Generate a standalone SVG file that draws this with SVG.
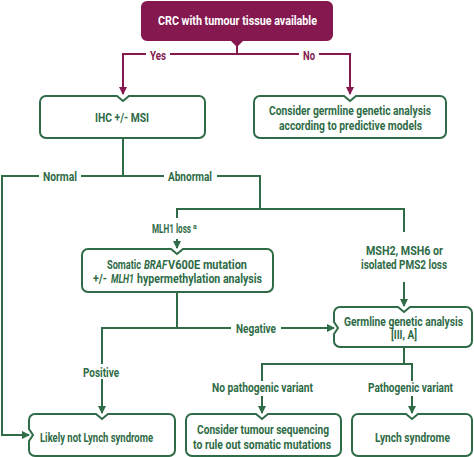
<svg xmlns="http://www.w3.org/2000/svg" width="474" height="457" viewBox="0 0 474 457">
<style>
.bx{fill:#fff;stroke:#2e6b46;stroke-width:2}
.cg{fill:none;stroke:#2e6b46;stroke-width:2}
.cm{fill:none;stroke:#85194f;stroke-width:2}
.t{font-family:Roboto,"Liberation Sans",sans-serif;font-size:12.5px;font-weight:700;fill:#2e6b46}
.tm{fill:#85194f}
.tw{fill:#fff}
.i{font-style:italic}
.e{text-anchor:end}
.m{text-anchor:middle}
</style>
<defs>
<marker id="ag" markerUnits="userSpaceOnUse" markerWidth="8" markerHeight="8" refX="7" refY="4" orient="auto"><path d="M0,0 L8,4 L0,8 z" fill="#2e6b46"/></marker>
<marker id="am" markerUnits="userSpaceOnUse" markerWidth="8" markerHeight="8" refX="7" refY="4" orient="auto"><path d="M0,0 L8,4 L0,8 z" fill="#85194f"/></marker>
</defs>
<rect width="474" height="457" fill="#fff"/>
<g id="connectors">
<path class="cm" d="M237,46 V54"/>
<path class="cm" d="M170,54 H299"/>
<path class="cm" d="M146,54 H123 V94" marker-end="url(#am)"/>
<path class="cm" d="M319,54 H350 V94" marker-end="url(#am)"/>
<path class="cg" d="M123,138 V176 H81"/>
<path class="cg" d="M39,176 H2 V435 H29" marker-end="url(#ag)"/>
<path class="cg" d="M123,176 H164"/>
<path class="cg" d="M217,176 H260 V209"/>
<path class="cg" d="M177,218 V209 H404 V232"/>
<path class="cg" d="M177,239 V248" marker-end="url(#ag)"/>
<path class="cg" d="M404,282 V306" marker-end="url(#ag)"/>
<path class="cg" d="M231,328 H177 V292"/>
<path class="cg" d="M281,328 H334" marker-end="url(#ag)"/>
<path class="cg" d="M177,328 H102 V364"/>
<path class="cg" d="M102,379 V413" marker-end="url(#ag)"/>
<path class="cg" d="M404,347 V364"/>
<path class="cg" d="M262,381 V364 H412 V381"/>
<path class="cg" d="M262,396 V413" marker-end="url(#ag)"/>
<path class="cg" d="M412,396 V413" marker-end="url(#ag)"/>
</g>
<g id="labels">
<text class="t tm m" x="158" y="59.5" textLength="16" lengthAdjust="spacingAndGlyphs">Yes</text>
<text class="t tm m" x="309" y="59.5" textLength="12" lengthAdjust="spacingAndGlyphs">No</text>
<text class="t m" x="60" y="181" textLength="34" lengthAdjust="spacingAndGlyphs">Normal</text>
<text class="t m" x="190" y="181" textLength="44" lengthAdjust="spacingAndGlyphs">Abnormal</text>
<text class="t" x="152" y="232.5" textLength="39" lengthAdjust="spacingAndGlyphs">MLH1 loss</text>
<text class="t" x="193" y="228.5" style="font-size:7px">a</text>
<text class="t e" x="443" y="254.5" textLength="77" lengthAdjust="spacingAndGlyphs">MSH2, MSH6 or</text>
<text class="t e" x="447" y="268.5" textLength="86" lengthAdjust="spacingAndGlyphs">isolated PMS2 loss</text>
<text class="t m" x="256" y="332.5" textLength="40" lengthAdjust="spacingAndGlyphs">Negative</text>
<text class="t m" x="101" y="376.5" textLength="36" lengthAdjust="spacingAndGlyphs">Positive</text>
<text class="t e" x="313" y="391.5" textLength="101" lengthAdjust="spacingAndGlyphs">No pathogenic variant</text>
<text class="t e" x="453" y="391.5" textLength="85" lengthAdjust="spacingAndGlyphs">Pathogenic variant</text>
</g>
<g id="n-crc">
<path d="M147,1 H327 A6,6 0 0 1 333,7 V35 A6,6 0 0 1 327,41 H243 L237,47 L231,41 H147 A6,6 0 0 1 141,35 V7 A6,6 0 0 1 147,1 Z" fill="#85194f"/>
<text class="t tw m" x="237.5" y="25" textLength="159" lengthAdjust="spacingAndGlyphs">CRC with tumour tissue available</text>
</g>
<g id="n-ihc">
<path class="bx" d="M46,96 H117 L123,101 L129,96 H199 A6,6 0 0 1 205,102 V132 A6,6 0 0 1 199,138 H46 A6,6 0 0 1 40,132 V102 A6,6 0 0 1 46,96 Z"/>
<text class="t m" x="122" y="121.5" textLength="54" lengthAdjust="spacingAndGlyphs">IHC +/- MSI</text>
</g>
<g id="n-consider">
<path class="bx" d="M260,96 H344 L350,101 L356,96 H440 A6,6 0 0 1 446,102 V132 A6,6 0 0 1 440,138 H260 A6,6 0 0 1 254,132 V102 A6,6 0 0 1 260,96 Z"/>
<text class="t m" x="350" y="115" textLength="162" lengthAdjust="spacingAndGlyphs">Consider germline genetic analysis</text>
<text class="t m" x="350.5" y="130" textLength="143" lengthAdjust="spacingAndGlyphs">according to predictive models</text>
</g>
<g id="n-braf">
<path class="bx" d="M88,249 H171 L177,254 L183,249 H267 A6,6 0 0 1 273,255 V286 A6,6 0 0 1 267,292 H88 A6,6 0 0 1 82,286 V255 A6,6 0 0 1 88,249 Z"/>
<text class="t" x="107" y="268.5" textLength="34" lengthAdjust="spacingAndGlyphs">Somatic</text>
<text class="t i" x="144" y="268.5" textLength="23" lengthAdjust="spacingAndGlyphs">BRAF</text>
<text class="t" x="168" y="268.5" textLength="79" lengthAdjust="spacingAndGlyphs">V600E mutation</text>
<text class="t" x="93" y="282.5" textLength="14" lengthAdjust="spacingAndGlyphs">+/-</text>
<text class="t i" x="111" y="282.5" textLength="23" lengthAdjust="spacingAndGlyphs">MLH1</text>
<text class="t" x="137" y="282.5" textLength="125" lengthAdjust="spacingAndGlyphs">hypermethylation analysis</text>
</g>
<g id="n-germline">
<path class="bx" d="M340,307 H398 L404,312 L410,307 H466 A6,6 0 0 1 472,313 V341 A6,6 0 0 1 466,347 H340 A6,6 0 0 1 334,341 V334 L338,328 L334,322 V313 A6,6 0 0 1 340,307 Z"/>
<text class="t e" x="463" y="325.5" textLength="119" lengthAdjust="spacingAndGlyphs">Germline genetic analysis</text>
<text class="t m" x="404" y="338.5" textLength="26" lengthAdjust="spacingAndGlyphs">[III, A]</text>
</g>
<g id="n-likely">
<path class="bx" d="M35,414 H96 L102,419 L108,414 H169 A6,6 0 0 1 175,420 V450 A6,6 0 0 1 169,456 H35 A6,6 0 0 1 29,450 V441 L33,435 L29,429 V420 A6,6 0 0 1 35,414 Z"/>
<text class="t" x="40" y="441.5" textLength="113" lengthAdjust="spacingAndGlyphs">Likely not Lynch syndrome</text>
</g>
<g id="n-sequencing">
<path class="bx" d="M192,414 H256 L262,419 L268,414 H335 A6,6 0 0 1 341,420 V450 A6,6 0 0 1 335,456 H192 A6,6 0 0 1 186,450 V420 A6,6 0 0 1 192,414 Z"/>
<text class="t m" x="263" y="433.5" textLength="132" lengthAdjust="spacingAndGlyphs">Consider tumour sequencing</text>
<text class="t m" x="262" y="448.5" textLength="138" lengthAdjust="spacingAndGlyphs">to rule out somatic mutations</text>
</g>
<g id="n-lynch">
<path class="bx" d="M358,414 H406 L412,419 L418,414 H466 A6,6 0 0 1 472,420 V450 A6,6 0 0 1 466,456 H358 A6,6 0 0 1 352,450 V420 A6,6 0 0 1 358,414 Z"/>
<text class="t e" x="450" y="441.5" textLength="75" lengthAdjust="spacingAndGlyphs">Lynch syndrome</text>
</g>
</svg>
